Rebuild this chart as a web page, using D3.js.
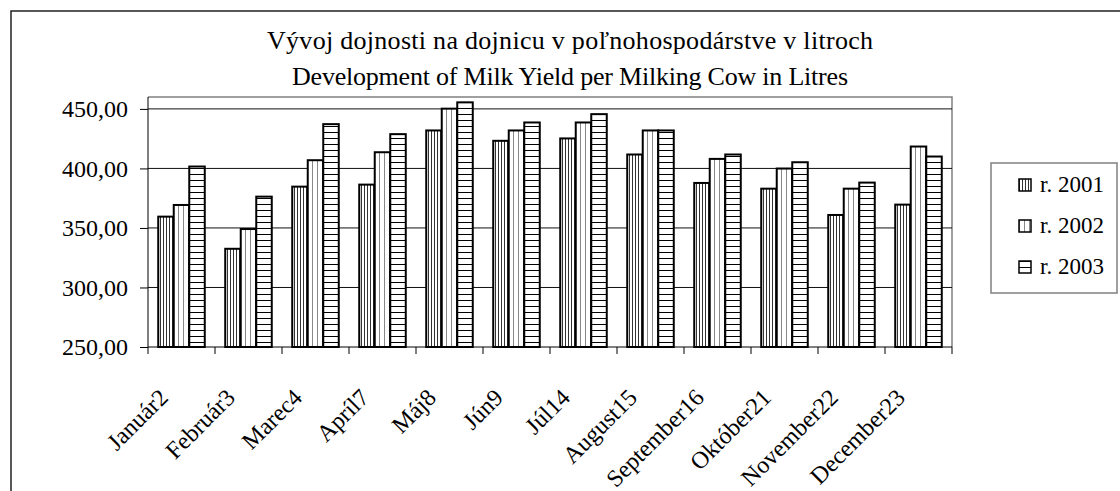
<!DOCTYPE html>
<html><head><meta charset="utf-8">
<script src="https://cdn.jsdelivr.net/npm/d3@7"></script>
<style>body{margin:0;background:#fff}svg{display:block}</style>
</head><body><svg id="c" width="1120" height="491" font-family="Liberation Serif"></svg>
<script>
const categories = ["Január2","Február3","Marec4","Apríl7","Máj8","Jún9","Júl14","August15","September16","Október21","November22","December23"];
const seriesNames = ["r. 2001","r. 2002","r. 2003"];
const y2001 = [359.5,332.5,384.7,386.4,431.9,423.2,425.2,411.7,387.8,383.0,360.9,369.6];
const y2002 = [369.3,349.1,406.9,413.6,450.2,431.9,438.6,431.9,408.0,399.9,383.0,418.4];
const y2003 = [401.6,376.3,437.2,428.8,455.5,438.6,445.6,431.9,411.7,405.2,388.1,410.0];
const yTicks = [250,300,350,400,450];
const titleLines = ["Vývoj dojnosti na dojnicu v poľnohospodárstve v litroch","Development of Milk Yield per Milking Cow in Litres"];

const FONT = "Liberation Serif";
const svg = d3.select("#c");
const L=148,R=952,T=97,B=347;
const defs = svg.append("defs");
function vpat(id, w, color){
  const p = defs.append("pattern").attr("id",id).attr("patternUnits","userSpaceOnUse").attr("width",w).attr("height",8);
  p.append("rect").attr("width",w).attr("height",8).attr("fill","#fff");
  p.append("rect").attr("x",0).attr("width",1).attr("height",8).attr("fill",color);
}
vpat("p0",3,"#333");
vpat("p1",5,"#888");
{
  const p = defs.append("pattern").attr("id","p2").attr("patternUnits","userSpaceOnUse").attr("width",8).attr("height",6);
  p.append("rect").attr("width",8).attr("height",6).attr("fill","#fff");
  p.append("rect").attr("y",0).attr("width",8).attr("height",1).attr("fill","#000");
}
const fills = ["url(#p0)","url(#p1)","url(#p2)"];

// outer frame
svg.append("rect").attr("x",11).attr("y",11).attr("width",1200).attr("height",600).attr("fill","none").attr("stroke","#222").attr("stroke-width",1.5);

// title
const titleWidths = [606,556];
const tg = svg.append("g").attr("text-anchor","middle").attr("font-family",FONT).attr("font-size",26).attr("fill","#000");
titleLines.forEach((t,i)=>tg.append("text").attr("x",570).attr("y",49+i*36)
  .attr("textLength",titleWidths[i]).attr("lengthAdjust","spacing").text(t));

const x0 = d3.scaleBand().domain(categories).range([L,R]).paddingInner(0).paddingOuter(0);
const x1 = d3.scaleBand().domain(seriesNames).range([0,x0.bandwidth()]).paddingInner(0).paddingOuter(0.66);
const y = d3.scaleLinear().domain([250,460]).range([B,T]);

// plot area border
svg.append("path").attr("d",`M${L},${T}H${R}V${B}`).attr("fill","none").attr("stroke","#808080").attr("stroke-width",1.5);
// gridlines
svg.append("g").selectAll("line").data(yTicks.slice(1)).join("line")
  .attr("x1",L).attr("x2",R).attr("y1",d=>y(d)).attr("y2",d=>y(d)).attr("stroke","#111").attr("stroke-width",1);

// bars
const data = categories.map((c,i)=>({c, v:[y2001[i],y2002[i],y2003[i]]}));
const g = svg.append("g").selectAll("g").data(data).join("g").attr("transform",d=>`translate(${x0(d.c)},0)`);
g.selectAll("rect").data(d=>d.v.map((v,k)=>({v,k}))).join("rect")
  .attr("x",d=>x1(seriesNames[d.k])).attr("width",x1.bandwidth())
  .attr("y",d=>y(d.v)).attr("height",d=>B-y(d.v))
  .attr("fill",d=>fills[d.k]).attr("stroke","#000").attr("stroke-width",2);

// y axis
const ya = svg.append("g").attr("transform",`translate(${L},0)`)
  .call(d3.axisLeft(y).tickValues(yTicks).tickSize(8).tickPadding(12).tickFormat(d=>d3.format(".2f")(d).replace(".",",")));
ya.attr("font-family",FONT).attr("font-size",24);
ya.select(".domain").attr("d",`M0,${B}V${T}`).attr("stroke","#000");
ya.selectAll("line").attr("stroke","#000");
ya.selectAll("text").attr("fill","#000");

// x axis
const xa = svg.append("g").attr("transform",`translate(0,${B})`).attr("font-family",FONT).attr("font-size",24);
xa.append("line").attr("x1",L).attr("x2",R).attr("stroke","#000");
const bounds = categories.map(c=>x0(c)).concat([R]);
xa.selectAll("line.t").data(bounds).join("line").attr("class","t").attr("x1",d=>d).attr("x2",d=>d).attr("y1",0).attr("y2",7).attr("stroke","#000");
xa.selectAll("text").data(categories).join("text")
  .attr("transform",d=>`translate(${x0(d)+x0.bandwidth()/2-18},${46}) rotate(-45)`)
  .attr("text-anchor","end").attr("dy","0.35em").attr("fill","#000").text(d=>d);

// legend
svg.append("rect").attr("x",991).attr("y",163).attr("width",126).attr("height",130).attr("fill","#fff").attr("stroke","#808080").attr("stroke-width",1.5);
const lg = svg.append("g").attr("font-family",FONT).attr("font-size",23).selectAll("g").data(seriesNames).join("g").attr("transform",(d,i)=>`translate(1019,${179+i*41})`);
lg.append("rect").attr("width",12).attr("height",12).attr("fill",(d,i)=>fills[i]).attr("stroke","#000").attr("stroke-width",1.5);
lg.append("text").attr("x",21).attr("y",13).attr("fill","#000").text(d=>d);
</script></body></html>
